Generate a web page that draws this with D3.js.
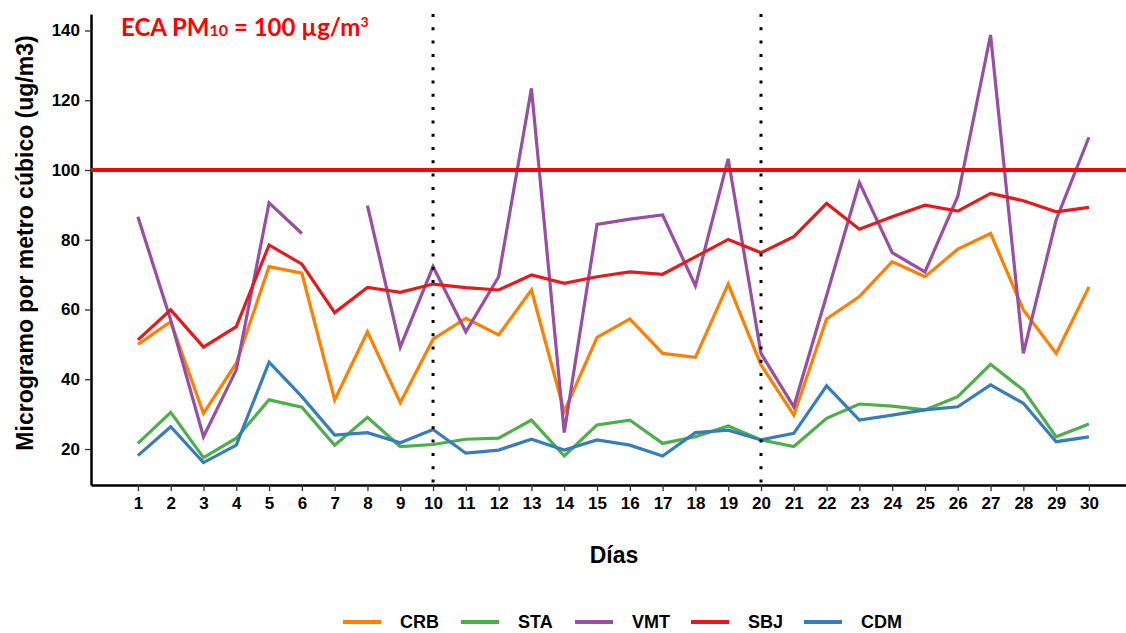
<!DOCTYPE html>
<html>
<head>
<meta charset="utf-8">
<script src="https://cdn.jsdelivr.net/npm/d3@7"></script>
<style>
  html, body { margin: 0; padding: 0; background: #fff; overflow: hidden; }
</style>
</head>
<body>
<div id="chart"></div>
<script>
const days = [1, 2, 3, 4, 5, 6, 7, 8, 9, 10, 11, 12, 13, 14, 15, 16, 17, 18, 19, 20, 21, 22, 23, 24, 25, 26, 27, 28, 29, 30];
const yTicks = [20, 40, 60, 80, 100, 120, 140];
const markerDays = [10, 20];
const ecaLimit = 100;

const crb = [50.0, 56.5, 30.2, 44.6, 72.3, 70.4, 34.1, 53.6, 33.3, 51.5, 57.5, 52.7, 65.6, 30.7, 52.0, 57.3, 47.4, 46.3, 67.3, 44.1, 29.7, 57.3, 63.7, 73.7, 69.4, 77.3, 81.8, 59.9, 47.4, 66.5];
const sta = [21.6, 30.5, 17.5, 23.1, 34.1, 32.0, 21.1, 29.1, 20.7, 21.3, 22.8, 23.1, 28.3, 18.0, 26.9, 28.3, 21.6, 23.5, 26.6, 22.6, 20.7, 28.8, 32.9, 32.3, 31.2, 35.0, 44.3, 36.9, 23.5, 27.2];
const vmt = [86.6, 57.0, 23.5, 42.7, 90.6, 81.8, null, 89.8, 49.2, 72.3, 53.6, 69.4, 123.4, 24.7, 84.4, 85.9, 87.1, 66.8, 103.2, 47.4, 32.1, 64.0, 96.4, 76.3, 70.8, 92.4, 138.7, 47.4, 85.7, 109.4];
const sbj = [51.3, 59.9, 49.2, 55.1, 78.5, 73.0, 59.1, 66.3, 64.9, 67.3, 66.3, 65.6, 69.9, 67.5, 69.4, 70.8, 70.1, 75.1, 80.1, 76.3, 80.9, 90.4, 83.0, 86.6, 89.9, 88.2, 93.3, 91.2, 88.0, 89.3];
const cdm = [18.1, 26.4, 16.1, 21.1, 44.9, 35.0, 24.0, 24.7, 21.8, 25.6, 18.8, 19.7, 22.8, 19.7, 22.6, 21.1, 18.0, 24.7, 25.4, 22.6, 24.5, 38.1, 28.3, 29.7, 31.2, 32.1, 38.4, 33.1, 22.1, 23.5];

const seriesNames = ["CRB", "STA", "VMT", "SBJ", "CDM"];
const seriesValues = [crb, sta, vmt, sbj, cdm];
const seriesColors = ["#FF7F00", "#4DAF4A", "#984EA3", "#E41A1C", "#377EB8"];

const totalWidth = 1126;
const totalHeight = 633;
const margin = { top: 14, right: 0, bottom: 148, left: 91 };
const width = totalWidth - margin.left - margin.right;
const height = totalHeight - margin.top - margin.bottom;
const font = "'Liberation Sans', Arial, sans-serif";

const svgEl = d3
  .select("#chart")
  .append("svg")
  .attr("width", totalWidth)
  .attr("height", totalHeight)
  .style("font-family", font);

const svg = svgEl
  .append("g")
  .attr("transform", `translate(${margin.left},${margin.top})`);

const x = d3.scaleLinear().domain([-0.43, 31.13]).range([0, width]);
const y = d3.scaleLinear().domain([9.68, 144.73]).range([height, 0]);

// axes
const xAxis = svg
  .append("g")
  .attr("transform", `translate(0,${height})`)
  .call(d3.axisBottom(x).tickValues(days).tickSize(6).tickSizeOuter(0).tickPadding(6).tickFormat(d3.format("d")));
xAxis.select(".domain").attr("stroke", "#000").attr("stroke-width", 2.5);
xAxis.selectAll(".tick line").attr("stroke", "#333").attr("stroke-width", 1.3);
xAxis.selectAll(".tick text")
  .attr("font-family", font)
  .attr("font-size", "17px")
  .attr("font-weight", "bold")
  .attr("fill", "#000");

const yAxis = svg
  .append("g")
  .call(d3.axisLeft(y).tickValues(yTicks).tickSize(6).tickSizeOuter(0).tickPadding(5));
yAxis.select(".domain").attr("stroke", "#000").attr("stroke-width", 2.5);
yAxis.selectAll(".tick line").attr("stroke", "#333").attr("stroke-width", 1.3);
yAxis.selectAll(".tick text")
  .attr("font-family", font)
  .attr("font-size", "17px")
  .attr("font-weight", "bold")
  .attr("fill", "#000");

// series lines
const line = d3
  .line()
  .defined((d) => d.v != null)
  .x((d) => x(d.day))
  .y((d) => y(d.v));

seriesNames.forEach((name, i) => {
  const pts = days.map((d, j) => ({ day: d, v: seriesValues[i][j] }));
  svg
    .append("path")
    .datum(pts)
    .attr("fill", "none")
    .attr("stroke", seriesColors[i])
    .attr("stroke-width", 3.2)
    .attr("stroke-linejoin", "miter")
    .attr("d", line);
});

// ECA limit line
svg
  .append("line")
  .attr("x1", 0)
  .attr("x2", width)
  .attr("y1", y(ecaLimit))
  .attr("y2", y(ecaLimit))
  .attr("stroke", "#FF0000")
  .attr("stroke-width", 4);

// dotted markers
markerDays.forEach((d) => {
  svg
    .append("line")
    .attr("x1", x(d))
    .attr("x2", x(d))
    .attr("y1", 0)
    .attr("y2", height)
    .attr("stroke", "#000")
    .attr("stroke-width", 3)
    .attr("stroke-dasharray", "3 10.3");
});

// annotation
const note = svg
  .append("text")
  .attr("x", 121 - margin.left)
  .attr("y", 36 - margin.top)
  .attr("font-family", "Lato, 'Open Sans', sans-serif")
  .attr("font-size", "24px")
  .attr("font-weight", "bold")
  .attr("fill", "#FF0000");
note.append("tspan").text("ECA PM");
note.append("tspan").attr("font-size", "16px").text("10");
note.append("tspan").text(" = 100 µg/m");
note.append("tspan").attr("font-size", "14px").attr("dy", -9).text("3");

// axis titles
svgEl
  .append("text")
  .attr("transform", "rotate(-90)")
  .attr("x", -243)
  .attr("y", 33)
  .attr("text-anchor", "middle")
  .attr("font-size", "23px")
  .attr("font-weight", "bold")
  .attr("fill", "#000")
  .text("Microgramo por metro cúbico (ug/m3)");

svgEl
  .append("text")
  .attr("x", 614)
  .attr("y", 563)
  .attr("text-anchor", "middle")
  .attr("font-size", "23px")
  .attr("font-weight", "bold")
  .attr("fill", "#000")
  .text("Días");

// legend (kept just inside the bottom edge)
const legendX = [343, 461, 575, 691, 804];
const legend = svgEl.append("g");
seriesNames.forEach((name, i) => {
  const g = legend.append("g").attr("transform", `translate(${legendX[i]},622)`);
  g.append("line")
    .attr("x1", 0)
    .attr("x2", 38)
    .attr("y1", 0)
    .attr("y2", 0)
    .attr("stroke", seriesColors[i])
    .attr("stroke-width", 4);
  g.append("text")
    .attr("x", 57)
    .attr("y", 6)
    .attr("font-size", "18px")
    .attr("font-weight", "bold")
    .attr("fill", "#000")
    .text(name);
});
</script>
</body>
</html>
